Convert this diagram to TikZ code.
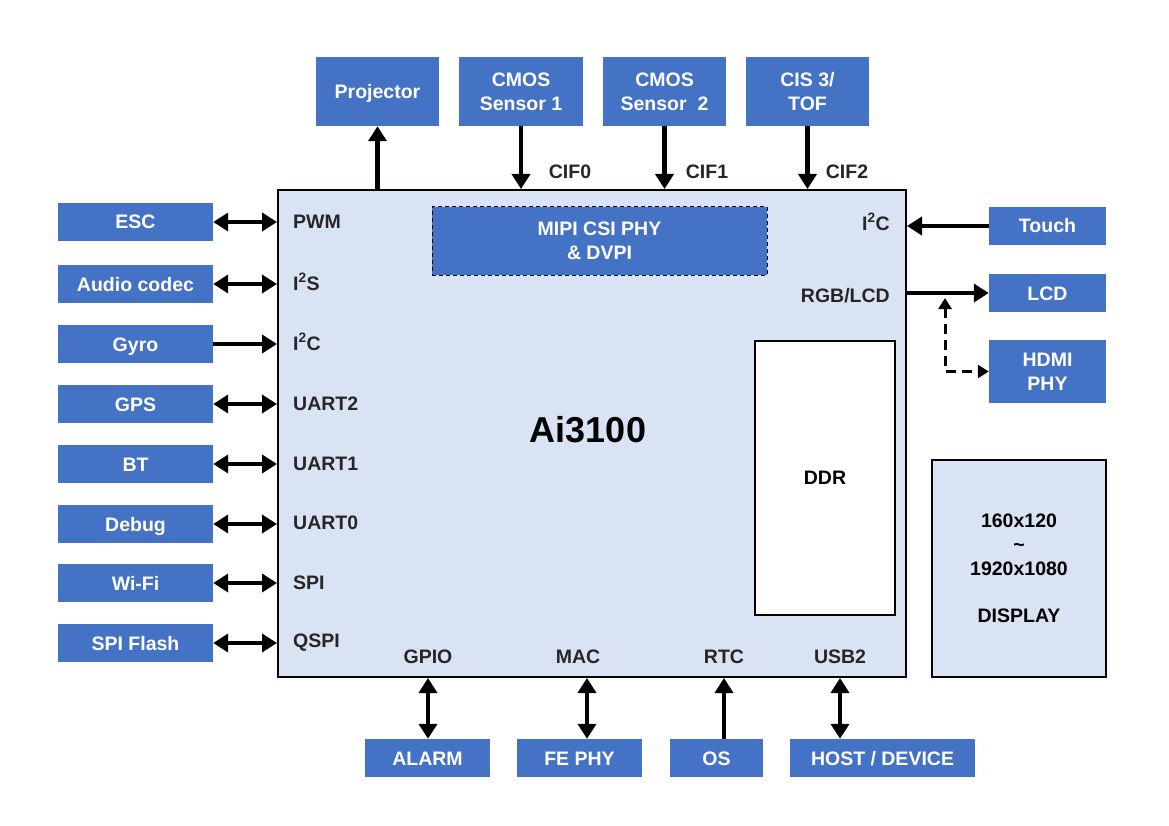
\documentclass[tikz,border=0pt]{standalone}
\usepackage{fontspec}
\setmainfont{Liberation Sans}
\usepackage{xcolor}
\usetikzlibrary{arrows.meta}
\definecolor{blkblue}{HTML}{4472C4}
\definecolor{chipblue}{HTML}{DAE3F3}

\begin{document}
\begin{tikzpicture}[x=1pt,y=-1pt,
  font=\fontsize{19.5}{24}\selectfont\bfseries,
  blk/.style={fill=blkblue,text=white,inner sep=0pt,align=center},
  one/.style={blk,text height=16pt,text depth=2pt},
  box/.style={draw=black,line width=2pt,inner sep=0pt},
  lbl/.style={text=black!85,inner sep=0pt},
  arr/.style={line width=4.5pt,-{Triangle[length=15pt,width=18pt]}},
  dbl/.style={line width=4.5pt,{Triangle[length=15pt,width=18pt]}-{Triangle[length=15pt,width=18pt]}},
  darr/.style={line width=3pt,dash pattern=on 10pt off 6pt,{Triangle[length=11pt,width=13pt]}-{Triangle[length=11pt,width=13pt]}}]
  \useasboundingbox (0,0) rectangle (1169,826);

  % chip
  \node[box,fill=chipblue,minimum width=628pt,minimum height=487pt] (chip) at (592,433.5) {};
  \node[font=\fontsize{36}{40}\selectfont\bfseries] (name) at (588,430) {Ai3100};
  \node[blk,draw=black,line width=1pt,dash pattern=on 4pt off 3pt,minimum width=335pt,minimum height=68pt] (mipi) at (599.5,241) {MIPI CSI PHY\\\& DVPI};
  \node[box,line width=1.5pt,fill=white,minimum width=140pt,minimum height=274pt] (ddr) at (825,478) {DDR};
  \node[box,fill=chipblue,minimum width=174pt,minimum height=217pt,align=center] (disp) at (1019,568.5) {160x120\\\textasciitilde\\1920x1080\\[23pt]DISPLAY};

  % left side
  \foreach \y/\nm/\txt in {222/esc/ESC, 284/audio/Audio codec, 344/gyro/Gyro, 404/gps/GPS,
      464/bt/BT, 524/debug/Debug, 583/wifi/Wi-Fi, 643/flash/SPI Flash}
    \node[one,minimum width=155pt,minimum height=38pt] (\nm) at (135.5,\y) {\txt};
  \foreach \y/\nm/\txt in {222/pwm/PWM, 282/i2s/I\textsuperscript{2}S, 342/i2cl/I\textsuperscript{2}C,
      404/uartc/UART2, 464/uartb/UART1, 523/uarta/UART0, 583/spi/SPI, 643/qspi/QSPI}
    \node[lbl,anchor=west] (\nm) at (293,\y) {\txt};
  \foreach \nm in {esc,audio,gps,bt,debug,wifi,flash}
    \draw[dbl] (\nm.east) -- (\nm.east -| chip.west);
  \draw[arr] (gyro.east) -- (gyro.east -| chip.west);

  % top side
  \node[one,minimum width=123pt,minimum height=69pt] (proj) at (377.5,91.5) {Projector};
  \node[blk,minimum width=124pt,minimum height=69pt] (cmosa) at (521,91.5) {CMOS\\Sensor 1};
  \node[blk,minimum width=123pt,minimum height=69pt] (cmosb) at (664.5,91.5) {CMOS\\Sensor\ \ 2};
  \node[blk,minimum width=123pt,minimum height=69pt] (cis) at (807.5,91.5) {CIS 3/\\TOF};
  \draw[arr] (proj.south |- chip.north) -- (proj.south);
  \foreach \nm in {cmosa,cmosb,cis}
    \draw[arr] (\nm.south) -- (\nm.south |- chip.north);
  \node[lbl] (cifa) at (570,172) {CIF0};
  \node[lbl] (cifb) at (707,172) {CIF1};
  \node[lbl] (cifc) at (847,172) {CIF2};

  % right side
  \node[one,minimum width=117pt,minimum height=38pt] (touch) at (1047.5,226) {Touch};
  \node[one,minimum width=117pt,minimum height=38pt] (lcd) at (1047.5,293) {LCD};
  \node[blk,minimum width=117pt,minimum height=63pt] (hdmi) at (1047.5,371.5) {HDMI\\PHY};
  \node[lbl,anchor=east] (i2cr) at (890,222) {I\textsuperscript{2}C};
  \node[lbl,anchor=east] (rgb) at (890,296) {RGB/LCD};
  \draw[arr] (touch.west) -- (touch.west -| chip.east);
  \draw[arr] (lcd.west -| chip.east) -- (lcd.west);
  \coordinate (split) at (945,298);
  \draw[darr] (split) |- (hdmi.west);

  % bottom side
  \node[one,minimum width=125pt,minimum height=38pt] (alarm) at (427.5,758) {ALARM};
  \node[one,minimum width=125pt,minimum height=38pt] (fephy) at (579.5,758) {FE PHY};
  \node[one,minimum width=93pt,minimum height=38pt] (os) at (716.5,758) {OS};
  \node[one,minimum width=185pt,minimum height=38pt] (host) at (882.5,758) {HOST / DEVICE};
  \node[lbl] (gpio) at (428,657) {GPIO};
  \node[lbl] (mac) at (578,657) {MAC};
  \node[lbl] (rtc) at (724,657) {RTC};
  \node[lbl] (usb) at (840,657) {USB2};
  \coordinate (macx) at (587,0);
  \draw[dbl] (chip.south -| gpio) -- (alarm.north -| gpio);
  \draw[dbl] (chip.south -| macx) -- (fephy.north -| macx);
  \draw[arr] (os.north -| rtc) -- (chip.south -| rtc);
  \draw[dbl] (chip.south -| usb) -- (host.north -| usb);
\end{tikzpicture}
\end{document}
